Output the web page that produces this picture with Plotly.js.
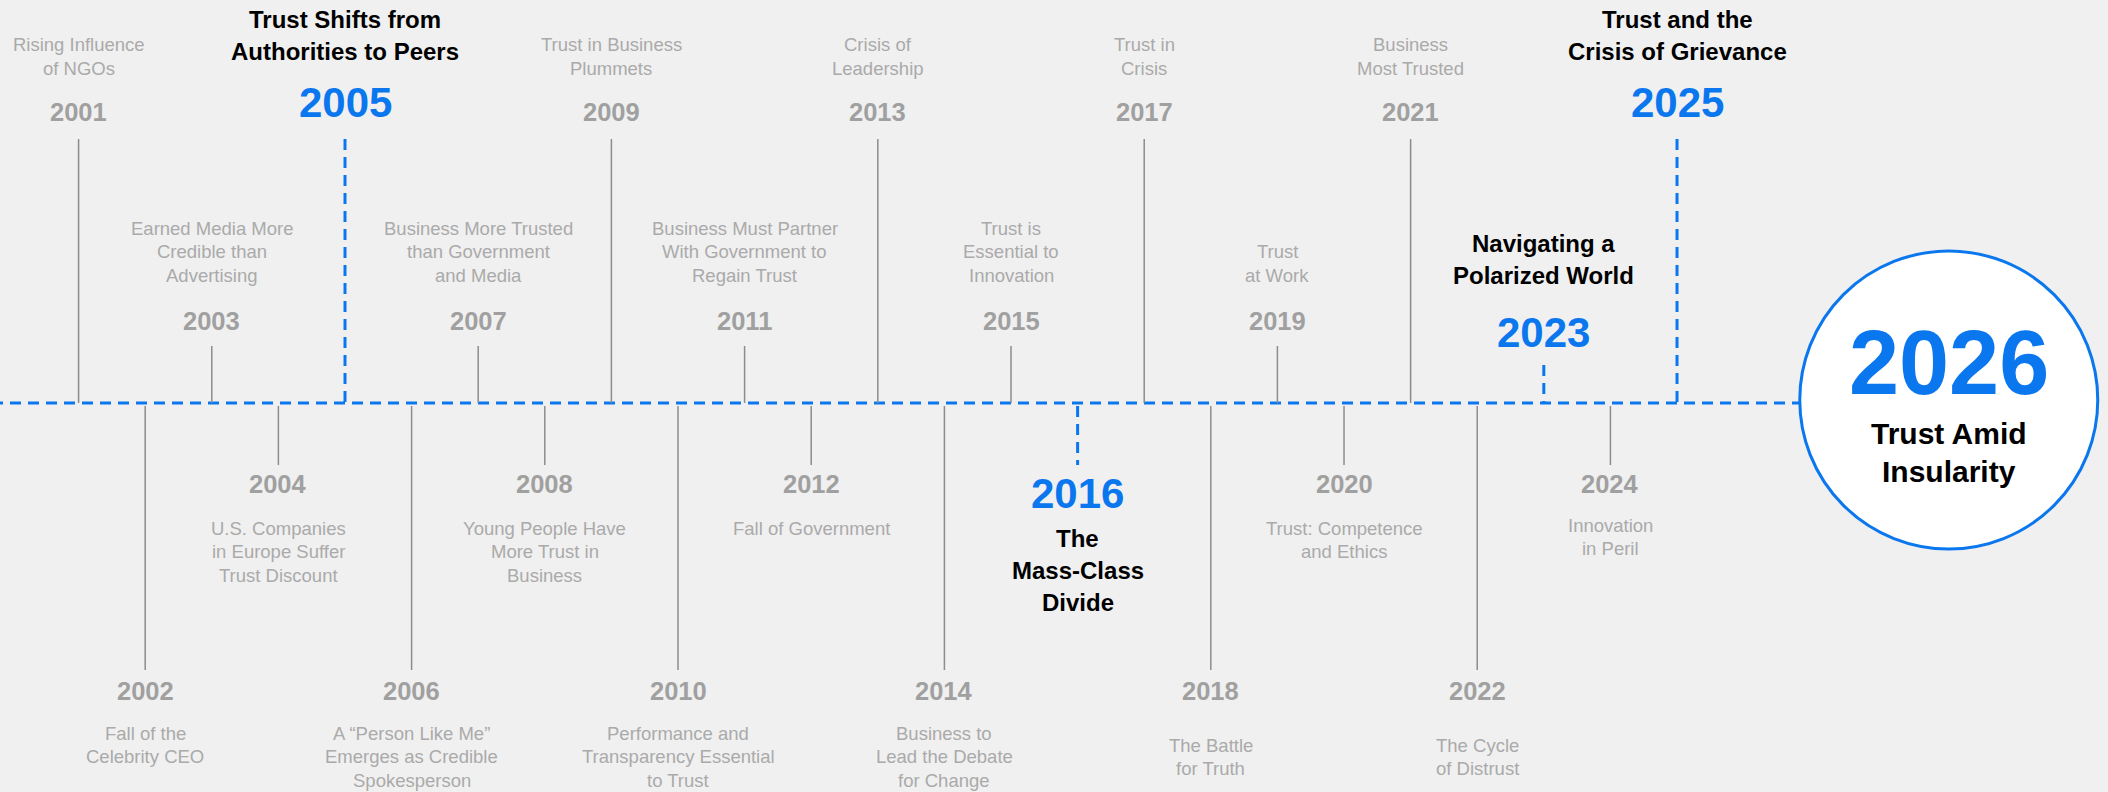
<!DOCTYPE html>
<html><head><meta charset="utf-8">
<script src="https://cdn.plot.ly/plotly-3.0.1.min.js"></script>
<style>html,body{margin:0;padding:0;background:#f0f0f0;overflow:hidden}#chart{width:2108px;height:792px}</style>
</head><body><div id="chart"></div>
<script>
// ---- data ----
const years = [2001,2002,2003,2004,2005,2006,2007,2008,2009,2010,2011,2012,2013,2014,2015,2016,2017,2018,2019,2020,2021,2022,2023,2024,2025];
const captions = [
  "Rising Influence<br>of NGOs",
  "Fall of the<br>Celebrity CEO",
  "Earned Media More<br>Credible than<br>Advertising",
  "U.S. Companies<br>in Europe Suffer<br>Trust Discount",
  "Trust Shifts from<br>Authorities to Peers",
  "A \u201CPerson Like Me\u201D<br>Emerges as Credible<br>Spokesperson",
  "Business More Trusted<br>than Government<br>and Media",
  "Young People Have<br>More Trust in<br>Business",
  "Trust in Business<br>Plummets",
  "Performance and<br>Transparency Essential<br>to Trust",
  "Business Must Partner<br>With Government to<br>Regain Trust",
  "Fall of Government",
  "Crisis of<br>Leadership",
  "Business to<br>Lead the Debate<br>for Change",
  "Trust is<br>Essential to<br>Innovation",
  "The<br>Mass-Class<br>Divide",
  "Trust in<br>Crisis",
  "The Battle<br>for Truth",
  "Trust<br>at Work",
  "Trust: Competence<br>and Ethics",
  "Business<br>Most Trusted",
  "The Cycle<br>of Distrust",
  "Navigating a<br>Polarized World",
  "Innovation<br>in Peril",
  "Trust and the<br>Crisis of Grievance"
];
const highlightYears = [2005, 2016, 2023, 2025];
const finaleYear = 2026;
const finaleCaption = "Trust Amid<br>Insularity";

// ---- style ----
const FONT = "Liberation Sans, Arial, sans-serif";
const BLUE = "#0a77ee";
const GRAY_YEAR = "#a0a0a0";
const GRAY_TEXT = "#aaaaaa";
const STEM = "#8c8c8c";
const AXIS_Y = 403;
const captionNudge = {2018: 12, 2022: 12, 2024: -3};
const finaleX = 2029.08, finaleY = 400, finaleR = 149;

const shapes = [];
const annotations = [];

function addLines(x, lines, firstY, lh, font, dir) {
  const n = lines.length;
  lines.forEach((t, i) => {
    const y = dir === 1 ? firstY + i * lh : firstY - (n - 1 - i) * lh;
    annotations.push({x: x, y: y, xref: 'x', yref: 'y', text: t, showarrow: false,
      xanchor: 'center', yanchor: 'middle', font: font});
  });
}

// main dashed axis
shapes.push({type: 'line', xref: 'x', yref: 'y', x0: 1999.7, x1: finaleX, y0: AXIS_Y, y1: AXIS_Y,
  line: {color: BLUE, width: 3, dash: '11px,7px'}});

years.forEach((yr, i) => {
  const up = yr % 2 === 1;
  const tall = up ? (yr - 2001) % 4 === 0 : (yr - 2002) % 4 === 0;
  const hi = highlightYears.includes(yr);
  let s0, s1, yy, cy, dir;
  if (up) {
    s1 = AXIS_Y;
    if (tall) { s0 = 139; yy = hi ? 102 : 112; cy = hi ? 51 : 68; }
    else { s0 = hi ? 365 : 346; yy = hi ? 332 : 321; cy = 275; }
    dir = -1;
  } else {
    s0 = AXIS_Y + 3;
    if (tall) { s1 = 670; yy = 691; cy = 733; }
    else { s1 = 465; yy = hi ? 493 : 484; cy = hi ? 538 : 528; }
    dir = 1;
  }
  cy += (captionNudge[yr] || 0);
  shapes.push({type: 'line', xref: 'x', yref: 'y', x0: yr, x1: yr, y0: s0, y1: s1,
    line: hi ? {color: BLUE, width: 3, dash: '11px,7px'} : {color: STEM, width: 1.5}});
  annotations.push({x: yr, y: yy, xref: 'x', yref: 'y', text: String(yr), showarrow: false,
    xanchor: 'center', yanchor: 'middle',
    font: hi ? {family: FONT, size: 42, color: BLUE, weight: 700} : {family: FONT, size: 25.5, color: GRAY_YEAR, weight: 700}});
  const lines = captions[i].split('<br>');
  if (hi) addLines(yr, lines, cy, 32, {family: FONT, size: 24, color: '#000', weight: 700}, dir);
  else addLines(yr, lines, cy, 23.5, {family: FONT, size: 18.5, color: GRAY_TEXT}, dir);
});

// finale circle
shapes.push({type: 'circle', xref: 'x', yref: 'y', xsizemode: 'pixel', ysizemode: 'pixel',
  xanchor: finaleX, yanchor: finaleY, x0: -finaleR, x1: finaleR, y0: -finaleR, y1: finaleR,
  fillcolor: '#ffffff', line: {color: BLUE, width: 3}});
annotations.push({x: finaleX, y: 363, xref: 'x', yref: 'y', text: String(finaleYear), showarrow: false,
  xanchor: 'center', yanchor: 'middle', font: {family: FONT, size: 90, color: BLUE, weight: 700}});
addLines(finaleX, finaleCaption.split('<br>'), 433, 38, {family: FONT, size: 30, color: '#000', weight: 700}, 1);

const layout = {
  width: 2108, height: 792,
  margin: {l: 0, r: 0, t: 0, b: 0},
  paper_bgcolor: '#f0f0f0', plot_bgcolor: '#f0f0f0',
  showlegend: false,
  xaxis: {range: [1999.82, 2031.471], visible: false, fixedrange: true},
  yaxis: {range: [792, 0], visible: false, fixedrange: true},
  shapes: shapes, annotations: annotations,
  hovermode: false
};
Plotly.newPlot('chart', [{x: years, y: years.map(() => AXIS_Y), mode: 'markers', marker: {opacity: 0}, hoverinfo: 'skip'}], layout, {staticPlot: true});
</script></body></html>
